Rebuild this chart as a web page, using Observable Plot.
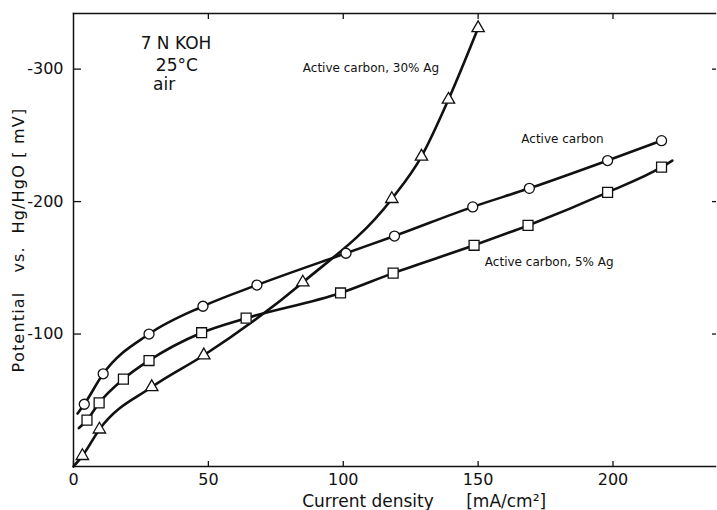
<!DOCTYPE html>
<html><head><meta charset="utf-8">
<script src="https://cdn.jsdelivr.net/npm/d3@7"></script>
<script src="https://cdn.jsdelivr.net/npm/@observablehq/plot@0.6"></script>
<style>
body{margin:0;background:#fff}
svg text{white-space:pre}
.ylabel text{letter-spacing:1.2px}
</style>
</head><body><div id="chart"></div>
<script>
// Active carbon (circles)
const acX = [4, 11, 28, 48, 68, 101, 119, 148, 169, 198, 218];
const acY = [-47, -70, -100, -121, -137, -161, -174, -196, -210, -231, -246];
const acLineStart = [[1.5, -40]];
const acLineEnd = [];
// Active carbon, 5% Ag (squares)
const ag5X = [5, 9.5, 18.5, 28, 47.5, 64, 99, 118.5, 148.5, 168.5, 198, 218];
const ag5Y = [-35, -48, -66, -80, -101, -112, -131, -146, -167, -182, -207, -226];
const ag5LineStart = [[2, -29]];
const ag5LineEnd = [[222, -231]];
// Active carbon, 30% Ag (triangles)
const ag30X = [3.3, 9.6, 29, 48.3, 85, 118, 129, 139, 150];
const ag30Y = [-8, -28, -60, -84, -139, -202, -234, -277, -331];
const ag30LineStart = [[0, 0]];
const ag30LineEnd = [];

const xTicks = [0, 50, 100, 150, 200];
const yTicks = [-100, -200, -300];

const pts = (xs, ys) => xs.map((x, i) => ({x, y: ys[i]}));
const line = (s, xs, ys, e) => [...s.map(([x, y]) => ({x, y})), ...pts(xs, ys), ...e.map(([x, y]) => ({x, y}))];

const acPts = pts(acX, acY), ag5Pts = pts(ag5X, ag5Y), ag30Pts = pts(ag30X, ag30Y);
const acLine = line(acLineStart, acX, acY, acLineEnd);
const ag5Line = line(ag5LineStart, ag5X, ag5Y, ag5LineEnd);
const ag30Line = line(ag30LineStart, ag30X, ag30Y, ag30LineEnd);

const conditionsCentered = [
  {x: 38, y: -319, text: "7 N KOH"},
  {x: 38.3, y: -303, text: "25°C"}
];
const conditionsLeft = [
  {x: 29.5, y: -288, text: "air"}
];
const seriesLabels = [
  {x: 85, y: -301, text: "Active carbon, 30% Ag"},
  {x: 166, y: -247, text: "Active carbon"},
  {x: 152.5, y: -154, text: "Active carbon, 5% Ag"}
];

const font = "'DejaVu Sans', sans-serif";
const stroke = "#111";

const chart = Plot.plot({
  width: 717,
  height: 510,
  marginLeft: 73,
  marginRight: 2,
  marginTop: 13,
  marginBottom: 44,
  style: {fontFamily: font, fontSize: "16px", color: stroke, background: "#fff"},
  x: {domain: [0, 238]},
  y: {domain: [0, -342]},
  marks: [
    Plot.frame({anchor: "top", stroke, strokeWidth: 1.5}),
    Plot.frame({anchor: "left", stroke, strokeWidth: 1.5}),
    Plot.frame({anchor: "bottom", stroke, strokeWidth: 1.5}),
    Plot.axisX({ticks: xTicks, tickSize: -5, tickFormat: () => "", strokeWidth: 1.3, label: null}),
    Plot.axisX({ticks: xTicks, tickSize: 0, tickPadding: 7, tickFormat: d => String(d), fontSize: 16, label: null}),
    Plot.axisX({anchor: "top", ticks: xTicks.slice(1), tickSize: -5, tickFormat: () => "", strokeWidth: 1.3, label: null}),
    Plot.axisY({ticks: yTicks, tickSize: -8, tickFormat: () => "", strokeWidth: 1.3, label: null}),
    Plot.axisY({ticks: yTicks, tickSize: 0, tickPadding: 10, tickFormat: d => String(d), fontSize: 16, label: null}),
    Plot.axisY({anchor: "right", ticks: yTicks, tickSize: -4, tickFormat: () => "", strokeWidth: 1.3, label: null}),
    Plot.line(acLine, {x: "x", y: "y", curve: "monotone-x", stroke, strokeWidth: 2.6}),
    Plot.line(ag5Line, {x: "x", y: "y", curve: "monotone-x", stroke, strokeWidth: 2.6}),
    Plot.line(ag30Line, {x: "x", y: "y", curve: "monotone-x", stroke, strokeWidth: 2.6}),
    Plot.dot(acPts, {x: "x", y: "y", symbol: "circle", r: 5, fill: "white", stroke, strokeWidth: 1.3}),
    Plot.dot(ag5Pts, {x: "x", y: "y", symbol: "square", r: 5.6, fill: "white", stroke, strokeWidth: 1.3}),
    Plot.dot(ag30Pts, {x: "x", y: "y", symbol: "triangle", r: 4.6, fill: "white", stroke, strokeWidth: 1.3}),
    Plot.text(conditionsCentered, {x: "x", y: "y", text: "text", textAnchor: "middle", fontSize: 17, fill: stroke}),
    Plot.text(conditionsLeft, {x: "x", y: "y", text: "text", textAnchor: "start", fontSize: 17, fill: stroke}),
    Plot.text(seriesLabels, {x: "x", y: "y", text: "text", textAnchor: "start", fontSize: 12, fill: stroke}),
    Plot.text(["Current density      [mA/cm²]"], {x: [130], frameAnchor: "bottom", lineAnchor: "middle", textAnchor: "middle", dy: 35, fontSize: 17, fill: stroke}),
    Plot.text(["Potential   vs.  Hg/HgO [ mV]"], {y: [-171], frameAnchor: "left", lineAnchor: "middle", textAnchor: "middle", dx: -55, rotate: -90, fontSize: 16, fill: stroke, className: "ylabel"})
  ]
});
document.getElementById("chart").appendChild(chart);
</script>
</body></html>
